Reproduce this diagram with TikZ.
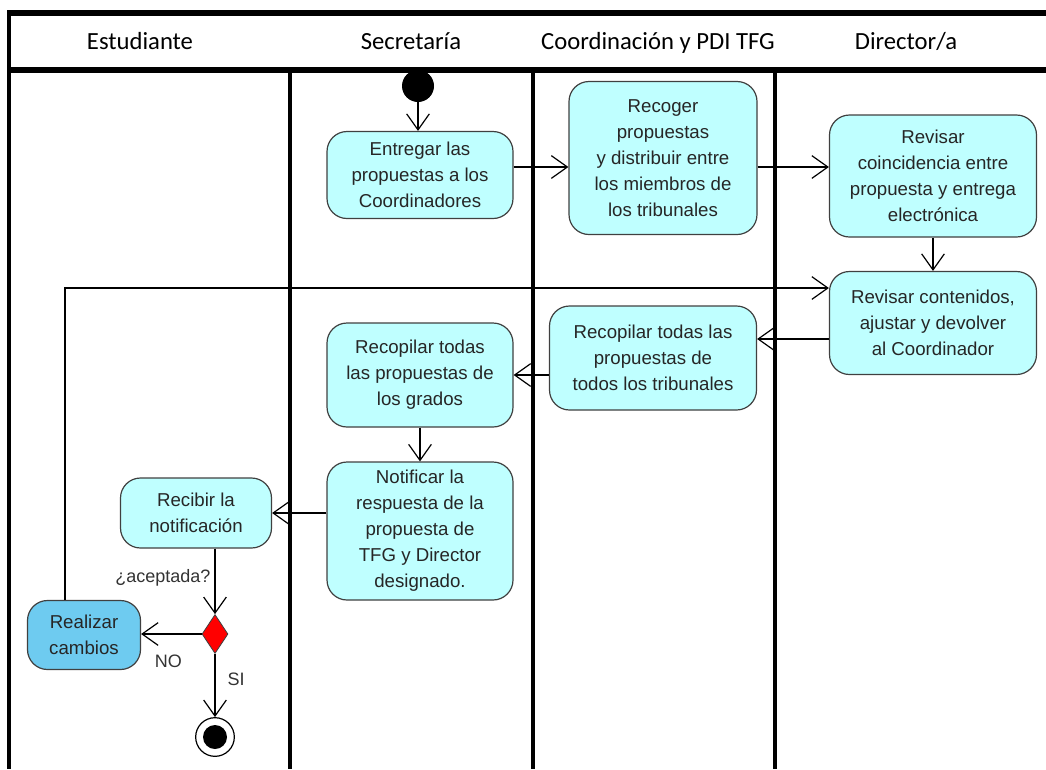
\documentclass[tikz,border=0pt]{standalone}
\usepackage{fontspec}
\setmainfont{Liberation Sans}
\newfontfamily\lanefont{Carlito}
\usepackage{tikz}
\usetikzlibrary{arrows.meta}
\usetikzlibrary{calc}
\usetikzlibrary{shapes}

\definecolor{actfill}{RGB}{191,255,255}
\definecolor{chgfill}{RGB}{110,203,240}
\definecolor{actline}{RGB}{64,64,64}

\begin{document}
\begin{tikzpicture}[x=0.75pt, y=-0.75pt,
        act_style/.style={rectangle, rounded corners=15pt, draw=actline, line width=0.9pt, fill=actfill, align=center, inner sep=2pt, text=black!85, font=\fontsize{14}{19.5}\selectfont},
        change_style/.style={act_style, fill=chgfill},
        decision_style/.style={diamond, draw=actline, line width=0.6pt, fill=red, inner sep=0pt, minimum width=19.5pt, minimum height=29.25pt},
        start_style/.style={circle, fill=black, inner sep=0pt, minimum size=24pt},
        end_style/.style={circle, draw=black, line width=0.9pt, fill=white, inner sep=0pt, minimum size=29pt,
            path picture={\fill[black] (path picture bounding box.center) circle (9pt);}},
        lane_style/.style={draw=black, line width=3pt},
        head_style/.style={draw=black, line width=4.5pt},
        lane_label/.style={anchor=base, font=\lanefont\fontsize{18.5}{22}\selectfont, text=black},
        guard_style/.style={font=\fontsize{13.5}{16}\selectfont, text=black!80, inner sep=1pt},
        edge_style/.style={draw=black, line width=0.9pt, -{Straight Barb[length=12pt, width=17pt, line width=0.9pt]}}]

        \useasboundingbox (0,0) rectangle (1046,769);

        % swimlanes
        \draw [lane_style] (9,13) -- (9,769);

        \draw [lane_style] (290,70) -- (290,769);

        \draw [lane_style] (533,70) -- (533,769);

        \draw [lane_style] (775,70) -- (775,769);

        \node [lane_label](l1) at (140,49) {Estudiante};

        \node [lane_label](l2) at (411,49) {Secretaría};

        \node [lane_label](l3) at (658,49) {Coordinación y PDI TFG};

        \node [lane_label](l4) at (906,49) {Director/a};

        % actions
        \node [start_style](start) at (418,86) {};

        \draw [head_style] (7,13) -- (1046,13);

        \draw [head_style] (7,70) -- (1046,70);

        \node [act_style, minimum width=139.5pt, minimum height=65.25pt](ent) at (420,175) {Entregar las\\propuestas a los\\Coordinadores};

        \node [act_style, minimum width=141pt, minimum height=114.75pt](rec) at (663,158) {Recoger\\propuestas\\y distribuir entre\\los miembros de\\los tribunales};

        \node [act_style, minimum width=155.25pt, minimum height=91.5pt](coin) at (933,176) {Revisar\\coincidencia entre\\propuesta y entrega\\electrónica};

        \node [act_style, minimum width=155.25pt, minimum height=77.25pt](cont) at (933,323) {Revisar contenidos,\\ajustar y devolver\\al Coordinador};

        \node [act_style, minimum width=155.25pt, minimum height=78pt](trib) at (653,358) {Recopilar todas las\\propuestas de\\todos los tribunales};

        \node [act_style, minimum width=139.5pt, minimum height=78pt](grad) at (420,375) {Recopilar todas\\las propuestas de\\los grados};

        \node [act_style, minimum width=139.5pt, minimum height=103.5pt](noti) at (420,531) {Notificar la\\respuesta de la\\propuesta de\\TFG y Director\\designado.};

        \node [act_style, minimum width=113.25pt, minimum height=52.5pt](recib) at (196,513) {Recibir la\\notificación};

        \node [decision_style](dec) at (215,634) {};

        \node [change_style, minimum width=84.75pt, minimum height=51.75pt](camb) at (84,635) {Realizar\\cambios};

        \node [end_style](fin) at (215,737) {};

        % flows
        \draw [edge_style] (start.south) -- (start.south |- ent.north);

        \draw [edge_style] ([yshift=6pt]ent.east) -- ([yshift=6pt]ent.east -| rec.west);

        \draw [edge_style] ([yshift=-6.75pt]rec.east) -- ([yshift=-6.75pt]rec.east -| coin.west);

        \draw [edge_style] (coin.south) -- (cont.north);

        \draw [edge_style] ([yshift=-12pt]cont.west) -- ([yshift=-12pt]cont.west -| trib.east);

        \draw [edge_style] (trib.west |- grad.east) -- (grad.east);

        \draw [edge_style] (grad.south) -- (noti.north);

        \draw [edge_style] (noti.west |- recib.east) -- (recib.east);

        \draw [edge_style] (recib.south -| dec.north) -- node[guard_style, pos=0.45, left=2pt](acep){¿aceptada?} (dec.north);

        \draw [edge_style] (dec.west) -- node[guard_style, pos=0.55, below=14pt](no){NO} (dec.west -| camb.east);

        \draw [edge_style] (dec.south) -- node[guard_style, pos=0.4, right=8pt](si){SI} (fin.north);

        \draw [edge_style] ([xshift=-14.25pt]camb.north) |- ([yshift=26.25pt]cont.west);

\end{tikzpicture}
\end{document}
